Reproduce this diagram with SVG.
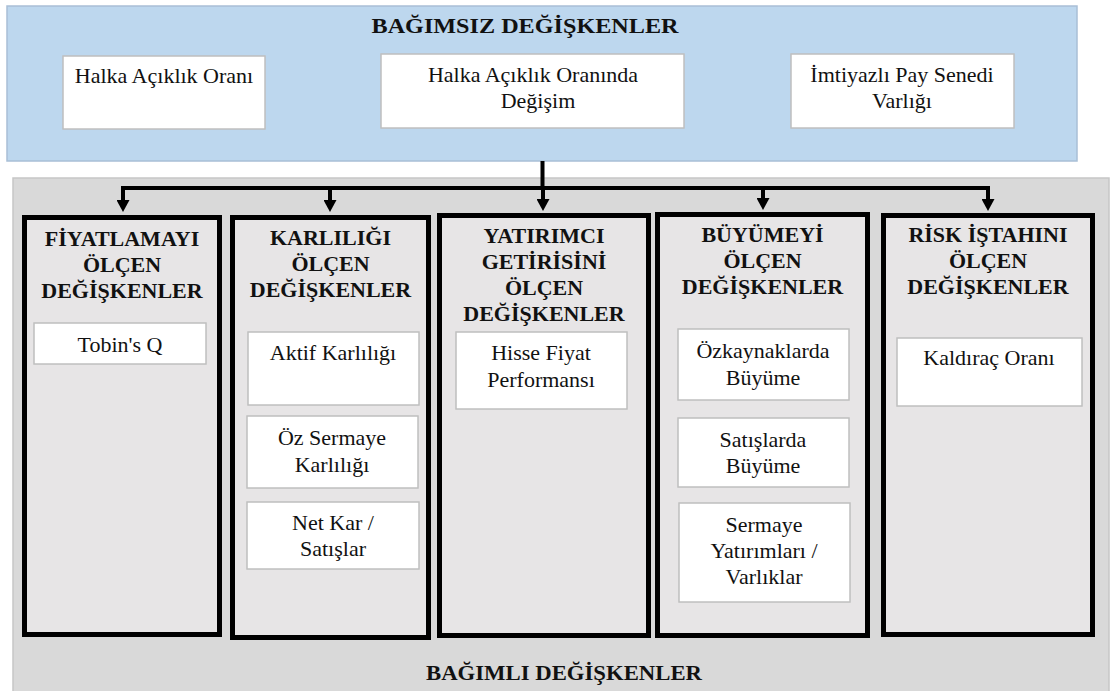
<svg xmlns="http://www.w3.org/2000/svg" width="1118" height="691" viewBox="0 0 1118 691" font-family="Liberation Serif, serif">
<style>
.t{font-family:Liberation Serif, serif;fill:#111;text-anchor:middle}
.h{font-weight:bold;font-size:22px}
.r{font-size:22px}
.box{fill:#fff;stroke:#bfbfbf;stroke-width:1.5}
.col{fill:#e7e5e6;stroke:#000;stroke-width:5}
.con{fill:none;stroke:#000;stroke-width:4}
</style>
<defs>
<marker id="ah" viewBox="0 0 12 13" refX="2" refY="6.5" markerWidth="12" markerHeight="13" markerUnits="userSpaceOnUse" orient="auto">
<path d="M0,0 L12,6.5 L0,13 z" fill="#000"/>
</marker>
</defs>
<rect width="1118" height="691" fill="#fff"/>
<g id="independent">
<rect x="7" y="6" width="1070" height="155" fill="#bdd7ee" stroke="#a9bfd6" stroke-width="1.5"/>
<text class="t h" x="525" y="33" textLength="307" lengthAdjust="spacingAndGlyphs">BAĞIMSIZ DEĞİŞKENLER</text>
</g>
<g id="iv1">
<rect class="box" x="63" y="56" width="202" height="73"/>
<text class="t r" x="164" y="83">Halka Açıklık Oranı</text>
</g>
<g id="iv2">
<rect class="box" x="381" y="54" width="303" height="74"/>
<text class="t r" x="533" y="82">Halka Açıklık Oranında<tspan x="538" dy="26">Değişim</tspan></text>
</g>
<g id="iv3">
<rect class="box" x="791" y="54" width="223" height="74"/>
<text class="t r" x="902" y="82">İmtiyazlı Pay Senedi<tspan x="902" dy="26">Varlığı</tspan></text>
</g>
<g id="dependent">
<rect x="13" y="178" width="1096" height="520" fill="#d9d9d9" stroke="#c6c6c6" stroke-width="1.5"/>
<text class="t h" x="564" y="680" textLength="276" lengthAdjust="spacingAndGlyphs">BAĞIMLI DEĞİŞKENLER</text>
</g>
<g id="col1">
<rect class="col" x="24.5" y="217.5" width="195" height="417"/>
<text class="t h" x="122" y="246">FİYATLAMAYI<tspan x="122" dy="26">ÖLÇEN</tspan><tspan x="122" dy="26">DEĞİŞKENLER</tspan></text>
<rect class="box" x="34" y="323" width="172" height="41"/>
<text class="t r" x="120" y="352">Tobin's Q</text>
</g>
<g id="col2">
<rect class="col" x="232.5" y="217.5" width="196" height="420"/>
<text class="t h" x="330.5" y="245">KARLILIĞI<tspan x="330.5" dy="26">ÖLÇEN</tspan><tspan x="330.5" dy="26">DEĞİŞKENLER</tspan></text>
<rect class="box" x="248" y="332" width="171" height="73"/>
<text class="t r" x="333" y="360">Aktif Karlılığı</text>
<rect class="box" x="247" y="416" width="171" height="72"/>
<text class="t r" x="332" y="445">Öz Sermaye<tspan x="332" dy="27">Karlılığı</tspan></text>
<rect class="box" x="247" y="502" width="172" height="67"/>
<text class="t r" x="333" y="530">Net Kar /<tspan x="333" dy="26">Satışlar</tspan></text>
</g>
<g id="col3">
<rect class="col" x="439.5" y="215.5" width="209" height="420"/>
<text class="t h" x="544" y="243">YATIRIMCI<tspan x="544" dy="26">GETİRİSİNİ</tspan><tspan x="544" dy="26">ÖLÇEN</tspan><tspan x="544" dy="26">DEĞİŞKENLER</tspan></text>
<rect class="box" x="456" y="332" width="171" height="77"/>
<text class="t r" x="541" y="360">Hisse Fiyat<tspan x="541" dy="27">Performansı</tspan></text>
</g>
<g id="col4">
<rect class="col" x="657.5" y="214.5" width="210" height="421"/>
<text class="t h" x="762.5" y="242">BÜYÜMEYİ<tspan x="762.5" dy="26">ÖLÇEN</tspan><tspan x="762.5" dy="26">DEĞİŞKENLER</tspan></text>
<rect class="box" x="678" y="329" width="171" height="71"/>
<text class="t r" x="763" y="358">Özkaynaklarda<tspan x="763" dy="27">Büyüme</tspan></text>
<rect class="box" x="678" y="418" width="171" height="69"/>
<text class="t r" x="763" y="447">Satışlarda<tspan x="763" dy="26">Büyüme</tspan></text>
<rect class="box" x="679" y="503" width="171" height="99"/>
<text class="t r" x="764" y="532">Sermaye<tspan x="764" dy="26">Yatırımları /</tspan><tspan x="764" dy="26">Varlıklar</tspan></text>
</g>
<g id="col5">
<rect class="col" x="883.5" y="215.5" width="209" height="419"/>
<text class="t h" x="988" y="242">RİSK İŞTAHINI<tspan x="988" dy="26">ÖLÇEN</tspan><tspan x="988" dy="26">DEĞİŞKENLER</tspan></text>
<rect class="box" x="897" y="338" width="185" height="68"/>
<text class="t r" x="989" y="365">Kaldıraç Oranı</text>
</g>
<g id="connectors">
<path class="con" d="M542.5,161 V188 M121,188 H990"/>
<path class="con" marker-end="url(#ah)" d="M123,186 V202"/>
<path class="con" marker-end="url(#ah)" d="M330,186 V202"/>
<path class="con" marker-end="url(#ah)" d="M543,186 V201"/>
<path class="con" marker-end="url(#ah)" d="M763,186 V200"/>
<path class="con" marker-end="url(#ah)" d="M988,186 V201"/>
</g>
</svg>
